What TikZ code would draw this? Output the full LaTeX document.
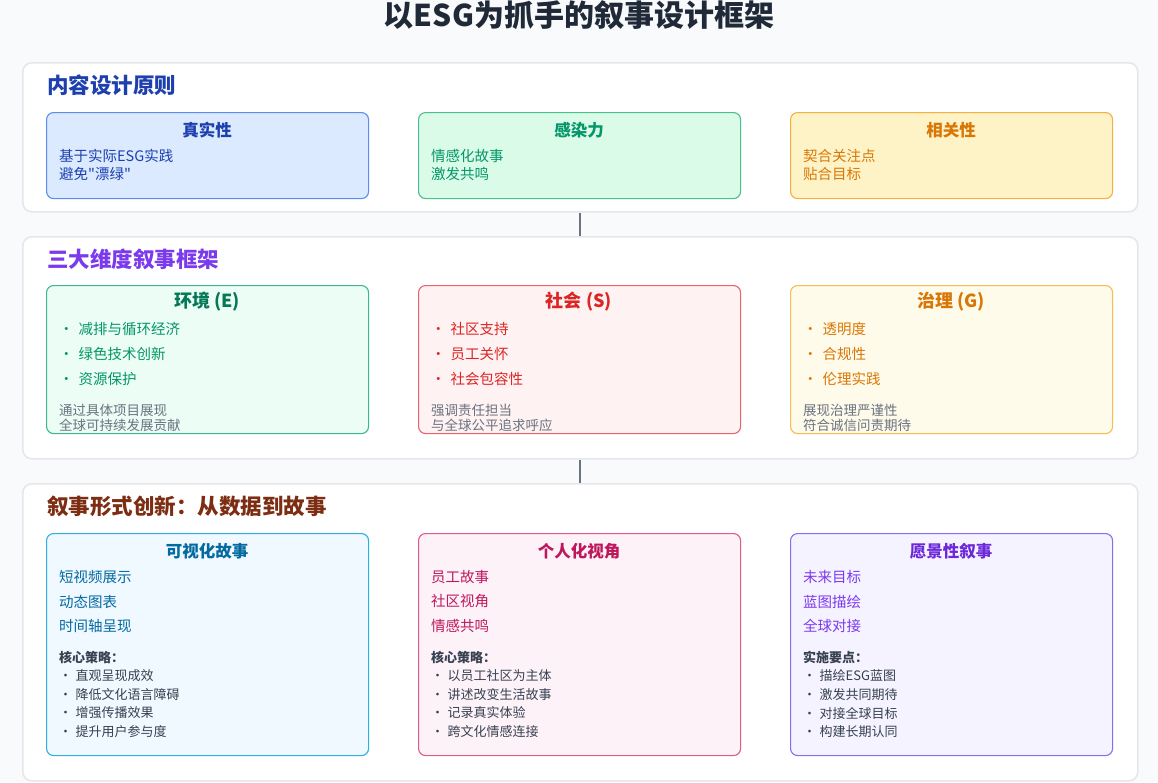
\documentclass[tikz,border=0pt]{standalone}
\usepackage{fontspec}
\setmainfont{Noto Sans CJK SC}[Ligatures=TeXOff]

\definecolor{bgcol}{HTML}{F8FAFC}
\definecolor{panelline}{HTML}{E5E7EB}
\definecolor{titlecol}{HTML}{1F2937}
\definecolor{linkgray}{HTML}{6B7280}
\definecolor{notegray}{HTML}{6B7280}
\definecolor{darktext}{HTML}{374151}
% principles
\definecolor{blueink}{HTML}{1E40AF}
\definecolor{bluefill}{HTML}{DBEAFE}
\definecolor{blueline}{HTML}{5B8DEF}
\definecolor{greenink}{HTML}{059669}
\definecolor{greenfill}{HTML}{D9FBE8}
\definecolor{greenline}{HTML}{4CBF8F}
\definecolor{amberink}{HTML}{D97706}
\definecolor{amberfill}{HTML}{FEF3C7}
\definecolor{amberline}{HTML}{F5B03E}
% dimensions
\definecolor{purpleink}{HTML}{7C3AED}
\definecolor{envink}{HTML}{047857}
\definecolor{envfill}{HTML}{ECFDF5}
\definecolor{envline}{HTML}{3DB88A}
\definecolor{socink}{HTML}{DC2626}
\definecolor{socfill}{HTML}{FEF2F2}
\definecolor{socline}{HTML}{E8636B}
\definecolor{govfill}{HTML}{FFFBEB}
\definecolor{govline}{HTML}{F7BD4F}
% forms
\definecolor{brownink}{HTML}{7C2D12}
\definecolor{skyink}{HTML}{0369A1}
\definecolor{skyfill}{HTML}{F0F9FF}
\definecolor{skyline}{HTML}{2BB0E0}
\definecolor{pinkink}{HTML}{BE185D}
\definecolor{pinkfill}{HTML}{FDF2F8}
\definecolor{pinkline}{HTML}{E0588C}
\definecolor{violetink}{HTML}{6D28D9}
\definecolor{violetfill}{HTML}{F5F3FF}
\definecolor{violetline}{HTML}{8B6CF0}

\newcommand{\bigdot}{・\hspace{5pt}}
\newcommand{\smalldot}{・\hspace{3.5pt}}

\tikzset{
  panel/.style={draw=panelline, fill=white, line width=1.6pt, rounded corners=9pt,
    anchor=north west, minimum width=1115pt, inner sep=0},
  card/.style={rounded corners=7pt, line width=1.1pt, anchor=north west,
    minimum width=322pt, inner sep=0},
  head/.style={anchor=west, inner sep=0, font=\fontsize{21.5}{24}\selectfont\bfseries},
  ctitle/.style={inner sep=0, font=\fontsize{16.5}{19}\selectfont\bfseries},
  item/.style={anchor=west, inner sep=0, font=\fontsize{14.5}{17}\selectfont},
  note/.style={anchor=west, inner sep=0, font=\fontsize{13}{15}\selectfont},
  link/.style={draw=linkgray, line width=2pt},
}

\begin{document}
\begin{tikzpicture}[x=1pt, y=-1pt]

    \fill[bgcol] (0,0) rectangle (1158,782);
    \useasboundingbox (0,0) rectangle (1158,782);

    % Title
    \node[inner sep=0, text=titlecol, font=\fontsize{30}{33}\selectfont\bfseries]
    (title) at (579,15) {以ESG为抓手的叙事设计框架};

    % Panels
    \node[panel, minimum height=149pt] (pan1) at (22,62) {};
    \node[panel, minimum height=222pt] (pan2) at (22,236) {};
    \node[panel, minimum height=297pt] (pan3) at (22,483) {};

    % Links
    \draw[link] (pan1.south) -- (pan2.north);
    \draw[link] (pan2.south) -- (pan3.north);

    % Principles
    \node[head, text=blueink] (h1) at (47,85) {内容设计原则};

    \node[card, draw=blueline, fill=bluefill, minimum height=86pt] (real) at (46,112) {};
    \node[ctitle, text=blueink] (realt) at (207,130) {真实性};
    \node[item, text=blueink] (reala) at (59,156) {基于实际ESG实践};
    \node[item, text=blueink] (realb) at (59,174) {避免"漂绿"};

    \node[card, draw=greenline, fill=greenfill, minimum height=86pt] (appeal) at (418,112) {};
    \node[ctitle, text=greenink] (appealt) at (579,130) {感染力};
    \node[item, text=greenink] (appeala) at (431,156) {情感化故事};
    \node[item, text=greenink] (appealb) at (431,174) {激发共鸣};

    \node[card, draw=amberline, fill=amberfill, minimum height=86pt] (rel) at (790,112) {};
    \node[ctitle, text=amberink] (relt) at (951,130) {相关性};
    \node[item, text=amberink] (rela) at (803,156) {契合关注点};
    \node[item, text=amberink] (relb) at (803,174) {贴合目标};

    % Dimensions
    \node[head, text=purpleink] (h2) at (47,259) {三大维度叙事框架};

    \node[card, draw=envline, fill=envfill, minimum height=148pt] (env) at (46,285) {};
    \node[ctitle, text=envink, font=\fontsize{18}{21}\selectfont\bfseries] (envt) at (207,302) {环境 (E)};
    \foreach \txt [count=\i] in {减排与循环经济, 绿色技术创新, 资源保护}
      \node[item, text=greenink] (env\i) at (59,304+25*\i) {\bigdot\txt};
    \node[note, text=notegray, font=\fontsize{13.5}{15}\selectfont] (envn1) at (59,410) {通过具体项目展现};
    \node[note, text=notegray, font=\fontsize{13.5}{15}\selectfont] (envn2) at (59,425) {全球可持续发展贡献};

    \node[card, draw=socline, fill=socfill, minimum height=148pt] (soc) at (418,285) {};
    \node[ctitle, text=socink, font=\fontsize{18}{21}\selectfont\bfseries] (soct) at (579,302) {社会 (S)};
    \foreach \txt [count=\i] in {社区支持, 员工关怀, 社会包容性}
      \node[item, text=socink] (soc\i) at (431,304+25*\i) {\bigdot\txt};
    \node[note, text=notegray, font=\fontsize{13.5}{15}\selectfont] (socn1) at (431,410) {强调责任担当};
    \node[note, text=notegray, font=\fontsize{13.5}{15}\selectfont] (socn2) at (431,425) {与全球公平追求呼应};

    \node[card, draw=govline, fill=govfill, minimum height=148pt] (gov) at (790,285) {};
    \node[ctitle, text=amberink, font=\fontsize{18}{21}\selectfont\bfseries] (govt) at (951,302) {治理 (G)};
    \foreach \txt [count=\i] in {透明度, 合规性, 伦理实践}
      \node[item, text=amberink] (gov\i) at (803,304+25*\i) {\bigdot\txt};
    \node[note, text=notegray, font=\fontsize{13.5}{15}\selectfont] (govn1) at (803,410) {展现治理严谨性};
    \node[note, text=notegray, font=\fontsize{13.5}{15}\selectfont] (govn2) at (803,425) {符合诚信问责期待};

    % Forms
    \node[head, text=brownink] (h3) at (47,506) {叙事形式创新：从数据到故事};

    \node[card, draw=skyline, fill=skyfill, minimum height=222pt] (vis) at (46,533) {};
    \node[ctitle, text=skyink] (vist) at (207,551) {可视化故事};
    \foreach \txt [count=\i] in {短视频展示, 动态图表, 时间轴呈现}
      \node[item, text=skyink] (vis\i) at (59,552.5+24.5*\i) {\txt};
    \node[note, text=darktext, font=\fontsize{13}{15}\selectfont\bfseries] (visk) at (59,657) {核心策略：};
    \foreach \txt [count=\i] in {直观呈现成效, 降低文化语言障碍, 增强传播效果, 提升用户参与度}
      \node[note, text=darktext] (viss\i) at (59,657.5+18.5*\i) {\smalldot\txt};

    \node[card, draw=pinkline, fill=pinkfill, minimum height=222pt] (pers) at (418,533) {};
    \node[ctitle, text=pinkink] (perst) at (579,551) {个人化视角};
    \foreach \txt [count=\i] in {员工故事, 社区视角, 情感共鸣}
      \node[item, text=pinkink] (pers\i) at (431,552.5+24.5*\i) {\txt};
    \node[note, text=darktext, font=\fontsize{13}{15}\selectfont\bfseries] (persk) at (431,657) {核心策略：};
    \foreach \txt [count=\i] in {以员工社区为主体, 讲述改变生活故事, 记录真实体验, 跨文化情感连接}
      \node[note, text=darktext] (perss\i) at (431,657.5+18.5*\i) {\smalldot\txt};

    \node[card, draw=violetline, fill=violetfill, minimum height=222pt] (vision) at (790,533) {};
    \node[ctitle, text=violetink] (visiont) at (951,551) {愿景性叙事};
    \foreach \txt [count=\i] in {未来目标, 蓝图描绘, 全球对接}
      \node[item, text=purpleink] (vision\i) at (803,552.5+24.5*\i) {\txt};
    \node[note, text=darktext, font=\fontsize{13}{15}\selectfont\bfseries] (visionk) at (803,657) {实施要点：};
    \foreach \txt [count=\i] in {描绘ESG蓝图, 激发共同期待, 对接全球目标, 构建长期认同}
      \node[note, text=darktext] (visions\i) at (803,657.5+18.5*\i) {\smalldot\txt};

\end{tikzpicture}
\end{document}
